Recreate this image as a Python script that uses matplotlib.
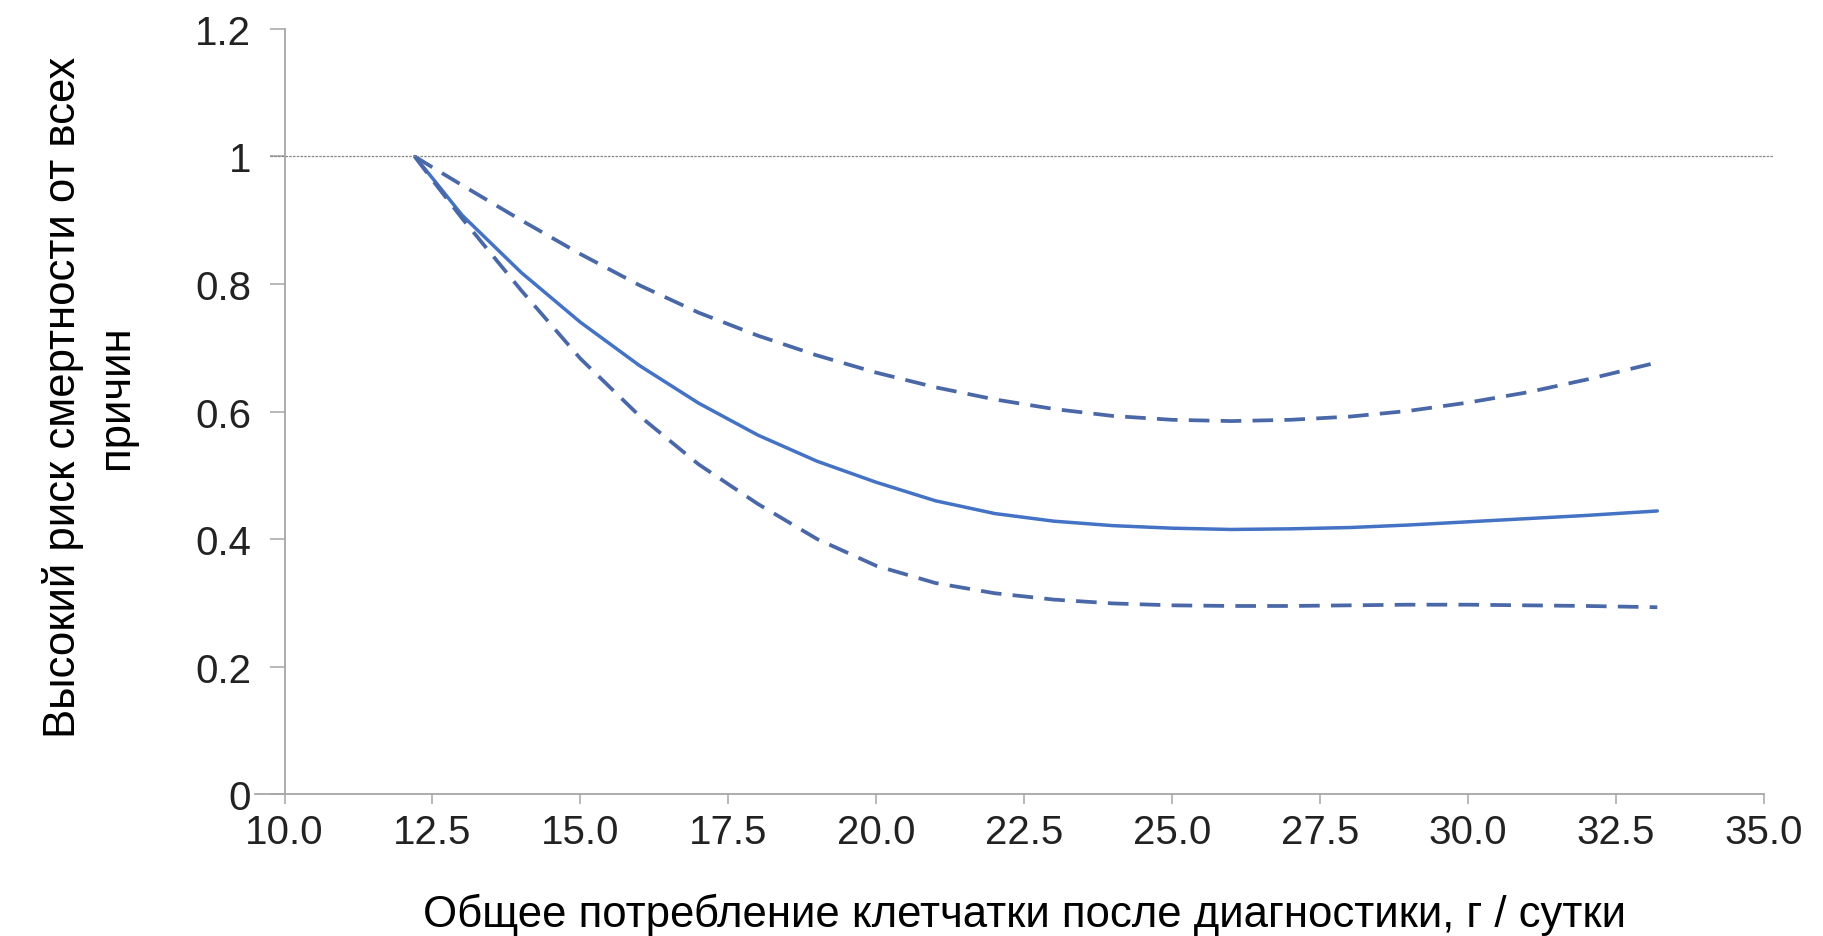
import numpy as np
import matplotlib.pyplot as plt

# Fibre intake after diagnosis (g/day) and relative risk of all-cause death
fibre = [12.2, 12.5, 13, 14, 15, 16, 17, 18, 19, 20, 21, 22, 23, 24, 25,
         26, 27, 28, 29, 30, 31, 32, 33.2]
risk = [1.0, 0.966, 0.908, 0.818, 0.740, 0.672, 0.613, 0.563, 0.522, 0.489,
        0.460, 0.440, 0.428, 0.421, 0.417, 0.415, 0.416, 0.418, 0.422,
        0.427, 0.432, 0.437, 0.444]
upper_ci = [1.0, 0.983, 0.955, 0.900, 0.847, 0.798, 0.755, 0.719, 0.688,
            0.661, 0.638, 0.619, 0.604, 0.593, 0.587, 0.585, 0.587, 0.592,
            0.601, 0.614, 0.630, 0.650, 0.677]
lower_ci = [1.0, 0.963, 0.903, 0.790, 0.683, 0.593, 0.517, 0.455, 0.400,
            0.358, 0.331, 0.315, 0.305, 0.299, 0.296, 0.295, 0.295, 0.296,
            0.297, 0.297, 0.296, 0.295, 0.293]

xticks = np.arange(10, 35.1, 2.5)
yticks = [0, 0.2, 0.4, 0.6, 0.8, 1.0, 1.2]
ytick_labels = ['0', '0.2', '0.4', '0.6', '0.8', '1', '1.2']

label_font = ['Liberation Sans', 'DejaVu Sans']
tick_font = ['Liberation Sans', 'DejaVu Sans']

fig = plt.figure(figsize=(18.24, 9.37), dpi=100)
ax = fig.add_axes([0.156, 0.1515, 0.811, 0.8165])

blue = '#4472c4'
ax.plot(fibre, risk, color=blue, lw=2.5, solid_capstyle='round')
ax.plot(fibre, upper_ci, color='#4a68a8', lw=2.7, dashes=(5.5, 3))
ax.plot(fibre, lower_ci, color='#4a68a8', lw=2.7, dashes=(5.5, 3))

# reference line at risk = 1
ax.axhline(1.0, xmin=-0.01, xmax=1.006, color='#888888', lw=0.9,
           dashes=(2, 1), clip_on=False)

ax.set_xlim(10, 35)
ax.set_ylim(0, 1.2)
ax.set_xticks(xticks)
ax.set_xticklabels([f'{v:.1f}' for v in xticks], family=tick_font, fontsize=29,
                   color='#222222')
ax.set_yticks(yticks)
ax.set_yticklabels(ytick_labels, family=tick_font, fontsize=29, color='#222222')

for s in ['top', 'right']:
    ax.spines[s].set_visible(False)
for s in ['left', 'bottom']:
    ax.spines[s].set_color('#a6a6a6')
    ax.spines[s].set_linewidth(1.3)
ax.spines['bottom'].set_bounds(9.5, 35)
ax.tick_params(axis='x', length=7, width=1.1, color='#a6a6a6', pad=7)
ax.tick_params(axis='y', length=11, width=1.1, color='#a6a6a6', pad=13)

ax.set_xlabel('Общее потребление клетчатки после диагностики, г / сутки',
              family=label_font, fontsize=31.5, labelpad=30)
ax.set_ylabel('Высокий риск смертности от всех\nпричин',
              family=label_font, fontsize=31.5, linespacing=1.35)
ax.yaxis.set_label_coords(-0.1, 0.52)

fig.savefig('out.png', dpi=100, facecolor='white')
